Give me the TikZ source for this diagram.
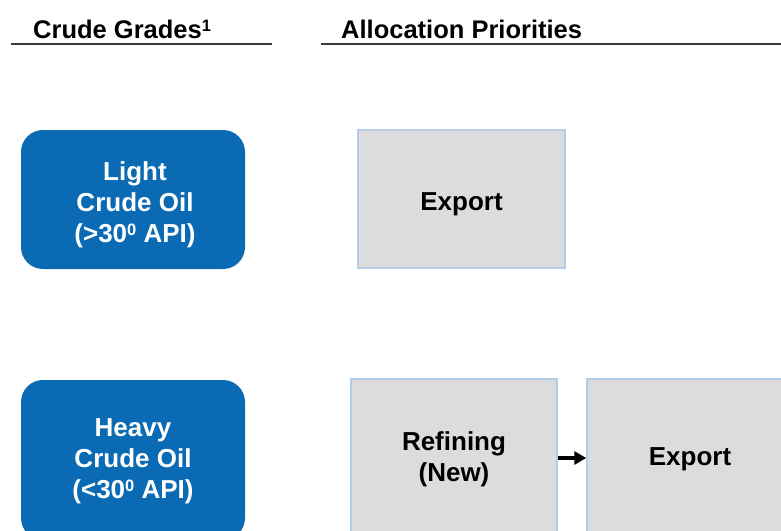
\documentclass[tikz,border=0pt]{standalone}
\usepackage{fontspec}
\setmainfont{Liberation Sans}
\usetikzlibrary{arrows.meta}
\definecolor{crudeblue}{HTML}{0A6BB4}
\definecolor{boxgrey}{HTML}{DCDCDC}
\definecolor{boxedge}{HTML}{B3CDE6}
\definecolor{ruleclr}{HTML}{3A3A3A}
\newcommand\mysup[1]{\raisebox{0.27em}{\fontsize{16.5}{16.5}\selectfont #1}}
\tikzset{
  txt/.style={font=\fontsize{26}{31}\selectfont\bfseries, align=center, inner sep=0pt},
  gradebox/.style={fill=crudeblue, rounded corners=22pt, inner sep=0pt},
  gradetext/.style={txt, text=white},
  allocbox/.style={fill=boxgrey, draw=boxedge, line width=1.5pt, inner sep=0pt},
  alloctext/.style={txt, text=black},
  header/.style={font=\fontsize{25.5}{30}\selectfont\bfseries, anchor=base west, inner sep=0pt},
  hrule/.style={draw=ruleclr, line width=2pt},
  flow/.style={line width=3.4pt, -{Triangle[length=12pt,width=13pt]}}
}
\begin{document}
\begin{tikzpicture}[x=1pt,y=-1pt]
\useasboundingbox (0,0) rectangle (781,530);
\clip (0,0) rectangle (781,530);
\fill[white] (0,0) rectangle (781,530);
% headers
\node[header] (h1) at (33,38) {Crude Grades\mysup{1}};
\node[header] (h2) at (341,38) {Allocation Priorities};
\coordinate (l1a) at (11,44); \coordinate (l1b) at (272,44);
\coordinate (l2a) at (321,44); \coordinate (l2b) at (790,44);
\draw[hrule] (l1a) -- (l1b);
\draw[hrule] (l2a) -- (l2b);
% crude grades
\node[gradebox, minimum width=224pt, minimum height=139pt] (light) at (133,199.5) {};
\node[gradetext] (lighttext) at ([xshift=2pt,yshift=-5.5pt]light.center) {Light\\Crude Oil\\(>30\mysup{0} API)};
\node[gradebox, minimum width=224pt, minimum height=160pt] (heavy) at (133,460) {};
\node[gradetext] (heavytext) at ([yshift=-1.5pt]heavy.center) {Heavy\\Crude Oil\\(<30\mysup{0} API)};
% allocation
\node[allocbox, minimum width=207pt, minimum height=138pt] (exp1) at (461.5,199) {};
\node[alloctext] (exp1text) at ([yshift=-5pt]exp1.center) {Export};
\node[allocbox, minimum width=206pt, minimum height=158pt] (ref) at (454,458) {};
\node[alloctext] (reftext) at ([yshift=-1.5pt]ref.center) {Refining\\(New)};
\node[allocbox, minimum width=220pt, minimum height=158pt] (exp2) at (697,458) {};
\node[alloctext] (exp2text) at ([xshift=-7pt,yshift=-1.5pt]exp2.center) {Export};
\draw[flow] (ref.east) -- (exp2.west);
\end{tikzpicture}
\end{document}
